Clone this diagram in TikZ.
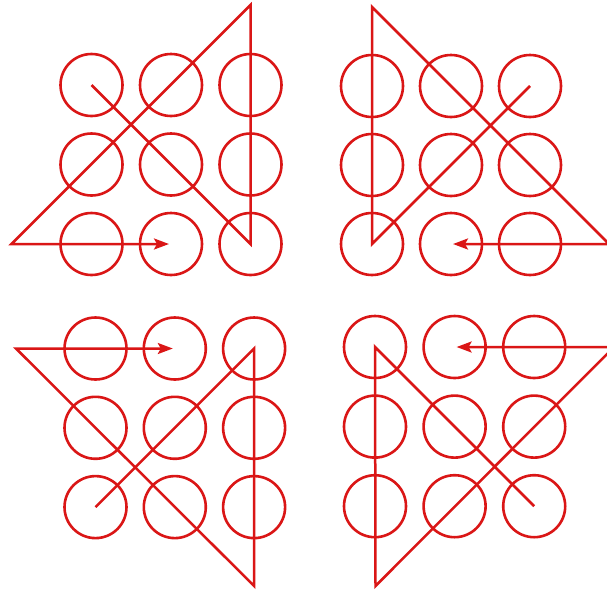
\documentclass[tikz,border=0pt]{standalone}
\usetikzlibrary{arrows.meta}
\definecolor{pred}{RGB}{218,22,22}
\begin{document}
\begin{tikzpicture}[x=1pt,y=-1pt,
  dot/.style={circle,draw=pred,line width=2.6pt,minimum size=62pt,inner sep=0pt},
  trail/.style={draw=pred,line width=2.5pt,line join=miter,-{Stealth[length=15pt,width=11pt,inset=3pt]}}]
\clip (0,0) rectangle (607,590);
% top-left grid
\foreach \i in {0,1,2} \foreach \j in {0,1,2}
  \node[dot] (a\i\j) at ({91.5+79.5*\i},{85+79.5*\j}) {};
\coordinate (aT) at (250.5,5);
\coordinate (aL) at (11.5,244);
\draw[trail] (a00.center) -- (a22.center) -- (aT) -- (aL) -- ([xshift=-2pt]a12.center);
% top-right grid
\foreach \i in {0,1,2} \foreach \j in {0,1,2}
  \node[dot] (b\i\j) at ({372+79*\i},{86+79*\j}) {};
\coordinate (bT) at (372,7);
\coordinate (bR) at (609,244);
\draw[trail] (b20.center) -- (b02.center) -- (bT) -- (bR) -- ([xshift=2pt]b12.center);
% bottom-left grid
\foreach \i in {0,1,2} \foreach \j in {0,1,2}
  \node[dot] (c\i\j) at ({95.5+79.3*\i},{348.5+79.3*\j}) {};
\coordinate (cB) at (254.1,586);
\coordinate (cL) at (16,348.5);
\draw[trail] (c02.center) -- (c20.center) -- (cB) -- (cL) -- ([xshift=-2pt]c10.center);
% bottom-right grid
\foreach \i in {0,1,2} \foreach \j in {0,1,2}
  \node[dot] (d\i\j) at ({375+79.6*\i},{347+79.6*\j}) {};
\coordinate (dB) at (375.5,586);
\coordinate (dR) at (614,347);
\draw[trail] (d22.center) -- (d00.center) -- (dB) -- (dR) -- ([xshift=2pt]d10.center);
\end{tikzpicture}
\end{document}
